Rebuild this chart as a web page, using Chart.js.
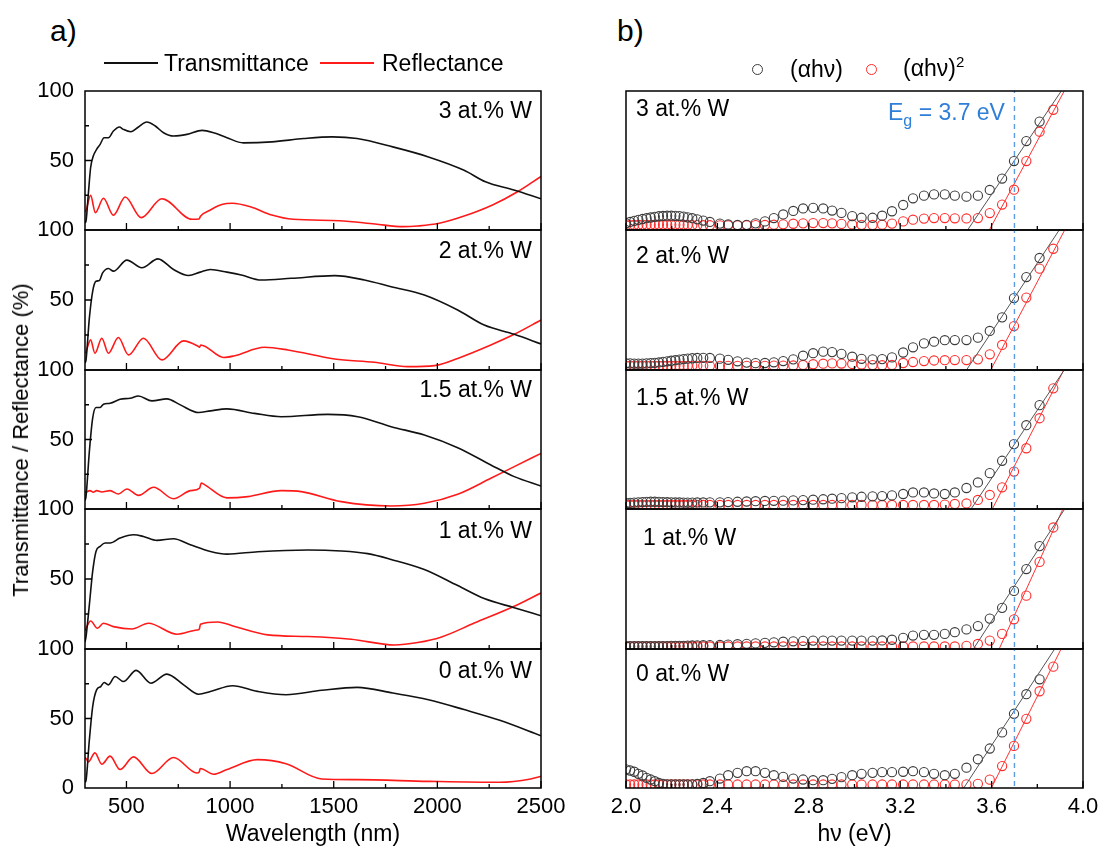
<!DOCTYPE html>
<html>
<head>
<meta charset="utf-8">
<script src="https://cdn.jsdelivr.net/npm/chart.js@4.4.1/dist/chart.umd.min.js"></script>
<style>
  body { margin: 0; background: #fff; }
  #fig { position: relative; width: 1107px; height: 852px; overflow: hidden;
         font-family: "Liberation Sans", Arial, sans-serif; color: #000; }
  #fig canvas { position: absolute; }
  .txt { position: absolute; font-size: 23px; line-height: 23px; white-space: nowrap; transform: translateY(-50%); }
</style>
</head>
<body>
<div id="fig"></div>
<script>
// ---- data: panel a) spectra, [wavelength nm, %] ----
var samples = ['3 at.% W', '2 at.% W', '1.5 at.% W', '1 at.% W', '0 at.% W'];

var transmittance3W = [[300,5],[305,6.5],[316,25.7],[327,44.8],[340,53.2],[356,58],[373,61.6],[392,66.4],[413,66.4],[437,71.2],[466,74.1],[485,72.4],[521,70.7],[558,74.1],[598,77.7],[639,74.8],[679,70],[727,67.6],[792,68.8],[865,71.7],[921,70],[985,66.4],[1064,62.7],[1201,63.4],[1356,65.8],[1493,67],[1613,65.8],[1785,59.8],[1957,52.6],[2129,43],[2232,34.7],[2369,28.7],[2500,22.5]];
var reflectance3W = [[300,13],[305,14.1],[327,24.9],[350,12.5],[389,22.8],[437,10.6],[494,23.7],[571,8.9],[671,22.5],[816,7.7],[850,7.9],[858,10.1],[900,14],[960,18.3],[1010,19.2],[1098,16.7],[1201,10.8],[1304,7.7],[1527,6.7],[1699,4.3],[1837,2.4],[1905,2.9],[2009,4.8],[2129,10],[2266,18],[2387,27.5],[2500,38.5]];

var transmittance2W = [[300,5],[305,7.2],[321,37],[337,56.2],[353,63.4],[369,63.9],[385,69.4],[413,72.5],[437,70.6],[502,78.5],[574,73],[652,79.4],[727,71.8],[800,67.5],[856,69.9],[905,71.8],[985,69.9],[1054,67.9],[1150,64.3],[1295,65.5],[1504,67.4],[1648,64.3],[1777,59.5],[1937,53.6],[2098,42.9],[2226,32.1],[2371,25.5],[2500,18.6]];
var reflectance2W = [[300,12],[305,13.2],[327,21.5],[348,12],[381,22.7],[413,12],[461,23.2],[510,10.8],[582,22.7],[671,7.2],[776,20.8],[848,16.7],[853,16.2],[858,17.9],[969,8.9],[1022,10.2],[1166,16.2],[1279,14.3],[1504,7.9],[1696,5.5],[1857,2.4],[1986,3.1],[2098,8.3],[2258,17.9],[2371,25.5],[2500,35.7]];

var transmittance15W = [[300,6],[305,9.1],[321,41.4],[337,65.3],[353,73],[373,73],[389,75.4],[421,76.1],[469,78.9],[518,79.7],[558,81.3],[623,77.8],[695,79.2],[760,74.9],[848,69.4],[905,70.6],[985,72],[1118,68.8],[1247,66.4],[1471,68.1],[1616,66.4],[1777,59.2],[1937,53.2],[2098,44.1],[2258,31.7],[2371,23.3],[2500,16.5]];
var reflectance15W = [[300,12],[305,12.2],[324,13.2],[340,12],[356,13.2],[381,12.2],[421,13.2],[461,10.8],[502,14.4],[558,9.8],[631,15.6],[727,7.4],[808,13.2],[853,15.1],[861,18.7],[875,17.7],[985,8],[1086,8.9],[1247,13.2],[1343,12.5],[1536,5.3],[1777,2.2],[1937,4.1],[2098,10.6],[2258,22.1],[2371,30.5],[2500,40]];

var transmittance1W = [[300,5],[305,8.8],[321,31.5],[337,55.4],[353,69.7],[373,73.3],[397,75.7],[421,75.7],[469,79.2],[534,81.6],[582,80.4],[647,77.6],[727,78.8],[808,74.5],[905,69.7],[985,67.8],[1134,69.5],[1375,70.7],[1536,70],[1664,68.1],[1777,64],[1937,56.8],[2098,45.3],[2226,36],[2371,29.5],[2500,23.7]];
var reflectance1W = [[300,13],[305,14.8],[327,20],[360,14.8],[389,18.4],[437,16],[526,14.3],[606,18.4],[744,10.5],[840,13.6],[851,14],[857,17.7],[940,19.3],[1022,16.1],[1182,10.1],[1375,8.9],[1584,7],[1793,2.9],[1905,4.6],[2017,8.4],[2178,18.5],[2371,30.5],[2500,40]];

var transmittance0W = [[300,4],[305,5.5],[321,34.5],[337,58.6],[356,70.6],[376,73],[392,75.9],[413,74.2],[445,80.2],[485,76.6],[547,84.6],[618,75.4],[695,81.9],[776,74.2],[848,67.5],[905,69.4],[1012,73.6],[1132,69.5],[1270,67.1],[1442,70.3],[1613,72.4],[1785,68.3],[1957,63.5],[2129,56.4],[2301,48.7],[2500,37.6]];
var reflectance0W = [[300,22],[305,21.2],[316,18.8],[348,25.3],[381,17.1],[421,22.9],[469,13.3],[534,22.4],[623,10.4],[727,21.9],[840,10.8],[851,11.5],[856,14],[921,9.9],[985,13.3],[1132,20.4],[1270,17.5],[1442,6.5],[1613,6],[1957,4.8],[2301,4.1],[2450,6.5],[2500,8.4]];

// ---- data: panel b) Tauc plots (arbitrary units, 0-100 per subplot) ----
var photonEnergy = [2.000,2.018,2.036,2.054,2.072,2.090,2.108,2.126,2.144,2.162,2.180,2.198,2.216,2.234,2.252,2.270,
  2.290,2.312,2.338,2.367,2.411,2.447,2.488,2.528,2.567,2.608,2.647,2.688,2.732,2.775,2.819,2.863,2.902,2.943,2.990,
  3.031,3.079,3.121,3.164,3.213,3.256,3.304,3.348,3.395,3.439,3.490,3.540,3.592,3.646,3.698,3.752,3.810,3.870];

var ahv3W = [4.8,5.8,6.6,7.3,7.9,8.5,9.0,9.5,9.9,10.1,10.3,10.3,10.2,10.0,9.6,9.1,
  8.5,7.7,6.8,5.8,4.6,4.0,3.6,3.7,4.8,6.2,8.6,11.2,13.7,15.5,15.9,15.5,14.0,12.3,10.0,
  8.8,8.8,10.3,13.5,18.0,22.8,24.7,25.6,25.6,24.7,24.0,24.7,28.8,37.0,49.6,64.0,78.0,null];
var ahvSq3W = [3.4,3.5,3.6,3.6,3.7,3.7,3.7,3.8,3.8,3.8,3.8,3.8,3.7,3.7,3.6,3.6,
  3.5,3.5,3.4,3.4,3.3,3.3,3.3,3.4,3.5,3.6,3.8,4.1,4.5,4.8,5.0,5.0,4.8,4.4,4.0,
  3.7,3.6,3.8,4.6,6.2,7.4,8.2,8.6,8.6,8.4,8.3,8.6,12.2,18.3,29.0,49.6,70.7,86.5];

var ahv2W = [4.8,4.7,4.6,4.6,4.6,4.7,4.9,5.1,5.4,5.8,6.2,6.6,7.0,7.4,7.8,8.1,
  8.4,8.6,8.7,8.6,8.1,7.3,6.2,5.3,4.9,5.0,5.5,6.4,7.6,10.2,12.0,13.1,12.8,11.5,9.5,
  8.0,7.6,7.8,9.0,12.5,16.2,19.0,20.2,21.3,21.4,21.4,23.1,27.9,37.6,51.4,66.4,80.0,null];
var ahvSq2W = [3.0,3.0,3.0,3.0,3.0,3.0,3.0,3.0,3.0,3.0,3.0,3.0,3.0,3.0,3.0,3.0,
  3.0,3.0,3.0,3.0,3.0,3.0,3.0,3.0,3.0,3.0,3.1,3.1,3.2,3.6,4.1,4.5,4.7,4.6,4.3,
  3.9,3.5,3.4,3.6,5.0,5.7,6.4,6.8,7.0,7.1,7.1,7.6,11.2,17.9,31.4,51.7,72.4,86.6];

var ahv15W = [4.2,4.4,4.6,4.8,5.0,5.1,5.2,5.2,5.1,5.0,4.9,4.8,4.7,4.7,4.6,4.6,
  4.6,4.7,4.7,4.8,4.8,5.0,5.2,5.4,5.6,5.8,5.9,6.0,6.2,6.4,6.7,7.0,7.4,7.8,8.4,
  8.8,9.1,9.3,9.8,10.8,11.9,11.9,11.2,10.8,11.9,15.1,19.1,25.8,34.7,46.7,60.3,74.7,null];
var ahvSq15W = [2.9,2.9,2.9,2.9,2.9,2.9,2.9,2.9,2.9,2.9,2.9,2.9,2.9,2.9,2.9,2.9,
  2.9,2.9,2.9,2.9,2.9,2.9,2.9,2.9,2.9,2.9,2.9,2.9,2.9,2.9,2.9,2.9,2.9,2.9,2.9,
  2.9,2.9,2.9,2.9,2.9,2.9,2.9,2.9,3.2,3.6,4.0,6.5,10.1,15.6,26.9,43.7,65.3,86.8];

var ahv1W = [2.0,2.0,2.0,2.0,2.0,2.0,2.0,2.0,2.0,2.0,2.1,2.2,2.2,2.3,2.3,2.4,
  2.5,2.6,2.7,2.8,2.9,3.1,3.4,3.7,4.0,4.4,4.8,5.2,5.5,5.8,6.0,6.0,6.0,6.0,6.0,
  6.0,6.0,6.1,6.6,8.0,9.6,10.1,10.1,10.8,12.0,14.0,16.4,21.7,29.4,41.5,57.1,73.5,null];
var ahvSq1W = [1.8,1.8,1.8,1.8,1.8,1.8,1.8,1.8,1.8,1.8,1.8,1.8,1.8,1.8,1.8,1.8,
  1.8,1.8,1.8,1.8,1.8,1.8,1.8,1.8,1.8,1.8,1.8,1.8,1.8,1.8,1.8,1.8,1.8,1.8,1.8,
  1.8,1.8,1.8,1.8,1.8,1.8,1.8,1.8,1.8,1.8,2.3,3.6,6.0,10.8,21.2,38.1,62.2,86.8];

var ahv0W = [13.4,12.6,11.7,10.2,9.0,7.3,6.1,4.9,3.6,3.0,2.6,2.5,2.5,2.5,2.5,2.5,
  2.6,2.9,3.6,4.9,6.8,9.2,10.9,12.1,12.1,10.9,9.2,8.0,6.8,6.1,5.6,5.6,6.6,7.8,9.2,
  10.2,10.9,11.4,11.4,11.7,12.1,11.4,10.2,9.2,10.2,14.6,20.7,28.4,40.0,53.4,67.5,78.2,null];
var ahvSq0W = [2.5,2.5,2.5,2.5,2.5,2.5,2.5,2.5,2.5,2.5,2.5,2.5,2.5,2.5,2.5,2.5,
  2.5,2.5,2.5,2.5,2.5,2.5,2.5,2.5,2.5,2.5,2.5,2.5,2.5,2.5,2.5,2.5,2.5,2.5,2.5,
  2.5,2.5,2.5,2.5,2.5,2.5,2.5,2.5,2.5,2.5,2.6,3.0,6.0,15.8,30.3,49.8,69.6,87.3];

// linear fits: energy where the line leaves 0 and reaches 100
var fitAhvStart   = [3.495, 3.490, 3.510, 3.520, 3.478];
var fitAhvEnd     = [3.905, 3.896, 3.918, 3.920, 3.876];
var fitAhvSqStart = [3.590, 3.596, 3.603, 3.633, 3.599];
var fitAhvSqEnd   = [3.918, 3.920, 3.916, 3.912, 3.904];
var bandGap = 3.7;

// tick values
var wlMajor = [500, 1000, 1500, 2000, 2500];
var wlMinor = [750, 1250, 1750, 2250];
var pctMajor = [50];
var pctMinor = [25, 75];
var evMajor = [2.0, 2.4, 2.8, 3.2, 3.6, 4.0];
var evMinor = [2.2, 2.6, 3.0, 3.4, 3.8];

var transmittance = [transmittance3W, transmittance2W, transmittance15W, transmittance1W, transmittance0W];
var reflectance = [reflectance3W, reflectance2W, reflectance15W, reflectance1W, reflectance0W];
var ahv = [ahv3W, ahv2W, ahv15W, ahv1W, ahv0W];
var ahvSq = [ahvSq3W, ahvSq2W, ahvSq15W, ahvSq1W, ahvSq0W];

// ---- layout ----
var rowTop = [91, 230, 370, 509, 649, 788];
var MARGIN = 28;   // room above/below each panel for the y tick labels
var FONT = "'Liberation Sans', Arial, sans-serif";
var fig = document.getElementById('fig');

Chart.defaults.font.family = FONT;
Chart.defaults.color = '#000';

// frame + inward tick marks for each small panel
Chart.register({
  id: 'frameTicks',
  afterDatasetsDraw: function (chart, args, o) {
    var ctx = chart.ctx, a = chart.chartArea, x = chart.scales.x, y = chart.scales.y;
    ctx.save();
    ctx.strokeStyle = '#000';
    ctx.lineWidth = 1.3;
    ctx.beginPath();
    function xt(list, len) {
      list.forEach(function (v) {
        var p = x.getPixelForValue(v);
        ctx.moveTo(p, a.bottom); ctx.lineTo(p, a.bottom - len);
      });
    }
    function yt(list, len) {
      list.forEach(function (v) {
        var p = y.getPixelForValue(v);
        ctx.moveTo(a.left, p); ctx.lineTo(a.left + len, p);
      });
    }
    xt(o.xMajor || [], 7); xt(o.xMinor || [], 4);
    yt(o.yMajor || [], 7); yt(o.yMinor || [], 4);
    ctx.stroke();
    ctx.lineWidth = 1.5;
    ctx.strokeRect(a.left, a.top, a.right - a.left, a.bottom - a.top);
    ctx.restore();
  }
});

function addCanvas(left, topPx, w, h) {
  var c = document.createElement('canvas');
  c.width = w; c.height = h;
  c.style.left = left + 'px'; c.style.top = topPx + 'px';
  c.style.width = w + 'px'; c.style.height = h + 'px';
  fig.appendChild(c);
  return c;
}

function addText(html, x, y, css) {
  var d = document.createElement('div');
  d.className = 'txt';
  d.innerHTML = html;
  d.style.left = x + 'px';
  d.style.top = y + 'px';
  if (css) Object.keys(css).forEach(function (k) { d.style[k] = css[k]; });
  fig.appendChild(d);
  return d;
}

function pairs(list) {
  return list.map(function (p) { return { x: p[0], y: p[1] }; });
}

function fixedTicks(list) {
  return function (s) { s.ticks = list.map(function (v) { return { value: v }; }); };
}

var tickFont = { family: FONT, size: 22 };
var titleFont = { family: FONT, size: 23 };

function buildRow(i) {
  var rowY = rowTop[i], rowH = rowTop[i + 1] - rowTop[i];
  var isLast = i === 4;
  var cTop = rowY - MARGIN;
  var cH = isLast ? 852 - cTop : rowH + 2 * MARGIN;
  var xFit = function (s) { if (isLast) s.height = 64; };
  var pad = { top: MARGIN, bottom: isLast ? 0 : MARGIN };

  // panel a)
  new Chart(addCanvas(0, cTop, 580, cH), {
    type: 'line',
    data: {
      datasets: [
        { data: pairs(transmittance[i]), borderColor: '#111', borderWidth: 1.6, pointRadius: 0,
          cubicInterpolationMode: 'monotone', clip: 0 },
        { data: pairs(reflectance[i]), borderColor: '#ff1a1a', borderWidth: 1.6, pointRadius: 0,
          cubicInterpolationMode: 'monotone', clip: 0 }
      ]
    },
    options: {
      responsive: false, animation: false, devicePixelRatio: 1, events: [],
      layout: { padding: { top: pad.top, bottom: pad.bottom, left: 0, right: 39 } },
      plugins: {
        legend: { display: false }, tooltip: { enabled: false },
        frameTicks: { xMajor: wlMajor, xMinor: wlMinor, yMajor: pctMajor, yMinor: pctMinor }
      },
      scales: {
        x: {
          type: 'linear', min: 300, max: 2500, display: isLast,
          grid: { display: false, drawTicks: false }, border: { display: false },
          afterBuildTicks: fixedTicks(wlMajor),
          ticks: { autoSkip: false, maxRotation: 0, padding: 6, font: tickFont,
                   callback: function (v) { return String(v); } },
          title: { display: true, text: 'Wavelength (nm)', font: titleFont, padding: { top: 0, bottom: 4 } },
          afterFit: xFit
        },
        y: {
          min: 0, max: 100,
          grid: { display: false, drawTicks: false }, border: { display: false },
          ticks: {
            stepSize: 50, autoSkip: false, padding: 11, font: tickFont,
            callback: function (v) { return (v === 0 && !isLast) ? '' : String(v); }
          },
          afterFit: function (s) { s.width = 85; }
        }
      }
    }
  });

  // panel b)
  var circlesA = photonEnergy.map(function (e, k) { return { x: e, y: ahv[i][k] }; });
  var circlesB = photonEnergy.map(function (e, k) { return { x: e, y: ahvSq[i][k] }; });
  new Chart(addCanvas(560, cTop, 547, cH), {
    type: 'scatter',
    data: {
      datasets: [
        { type: 'line', data: [{ x: bandGap, y: -5 }, { x: bandGap, y: 105 }], borderColor: '#5b9be0',
          borderWidth: 1.4, borderDash: [5, 4], pointRadius: 0, clip: 0 },
        { type: 'line', data: [{ x: fitAhvStart[i], y: 0 }, { x: fitAhvEnd[i], y: 100 }], borderColor: '#555',
          borderWidth: 1, pointRadius: 0, clip: 0 },
        { type: 'line', data: [{ x: fitAhvSqStart[i], y: 0 }, { x: fitAhvSqEnd[i], y: 100 }], borderColor: '#ff3030',
          borderWidth: 1, pointRadius: 0, clip: 0 },
        { data: circlesA, pointRadius: 4.6, pointBorderWidth: 1.1, pointBorderColor: '#3a3a3a',
          pointBackgroundColor: 'rgba(0,0,0,0)', clip: 0 },
        { data: circlesB, pointRadius: 4.6, pointBorderWidth: 1.1, pointBorderColor: '#ff2a2a',
          pointBackgroundColor: 'rgba(0,0,0,0)', clip: 0 }
      ]
    },
    options: {
      responsive: false, animation: false, devicePixelRatio: 1, events: [],
      layout: { padding: { top: pad.top, bottom: pad.bottom, left: 66, right: 24 } },
      plugins: {
        legend: { display: false }, tooltip: { enabled: false },
        frameTicks: { xMajor: evMajor, xMinor: evMinor }
      },
      scales: {
        x: {
          type: 'linear', min: 2, max: 4, display: isLast,
          grid: { display: false, drawTicks: false }, border: { display: false },
          afterBuildTicks: fixedTicks(evMajor),
          ticks: { autoSkip: false, maxRotation: 0, padding: 6, font: tickFont,
                   callback: function (v) { return Number(v).toFixed(1); } },
          title: { display: true, text: 'h\u03bd (eV)', font: titleFont, padding: { top: 0, bottom: 4 } },
          afterFit: xFit
        },
        y: { min: 0, max: 100, display: false }
      }
    }
  });
}

for (var r = 0; r < 5; r++) buildRow(r);

// ---- text: panel letters, legends, sample labels ----
addText('a)', 50, 31, { fontSize: '30px', lineHeight: '30px' });
addText('b)', 617, 31, { fontSize: '30px', lineHeight: '30px' });

// legend a)
var l1 = document.createElement('div');
l1.style.cssText = 'position:absolute;left:104px;top:62px;width:54px;border-top:2px solid #111;';
fig.appendChild(l1);
addText('Transmittance', 164, 63);
var l2 = document.createElement('div');
l2.style.cssText = 'position:absolute;left:320px;top:62px;width:54px;border-top:2px solid #ff1a1a;';
fig.appendChild(l2);
addText('Reflectance', 382, 63);

// legend b)
function legendCircle(cx, cy, color) {
  var d = document.createElement('div');
  d.style.cssText = 'position:absolute;width:9px;height:9px;border-radius:50%;border:1.2px solid ' + color +
    ';left:' + (cx - 5.5) + 'px;top:' + (cy - 5.5) + 'px;';
  fig.appendChild(d);
}
legendCircle(757, 69, '#3a3a3a');
addText('(\u03b1h\u03bd)', 790, 69);
legendCircle(871, 69, '#ff2a2a');
addText('(\u03b1h\u03bd)<span style="font-size:15px;position:relative;top:-9px;">2</span>', 903, 69);

// y title
addText('Transmittance / Reflectance (%)', 21, 440,
  { transform: 'translate(-50%,-50%) rotate(-90deg)', fontSize: '22px', lineHeight: '22px' });

// sample labels
var leftLabelY = [110, 250, 389, 530, 670];
var rightLabelY = [108, 255, 397, 537, 673];
var rightLabelX = [636, 636, 636, 643, 636];
for (var j = 0; j < 5; j++) {
  addText(samples[j], 0, leftLabelY[j], { left: 'auto', right: (1107 - 532) + 'px' });
  addText(samples[j], rightLabelX[j], rightLabelY[j]);
}

addText('E<span style="font-size:16px;position:relative;top:6px;">g</span> = 3.7 eV', 888, 113,
  { color: '#2f7fd8' });
</script>
</body>
</html>
